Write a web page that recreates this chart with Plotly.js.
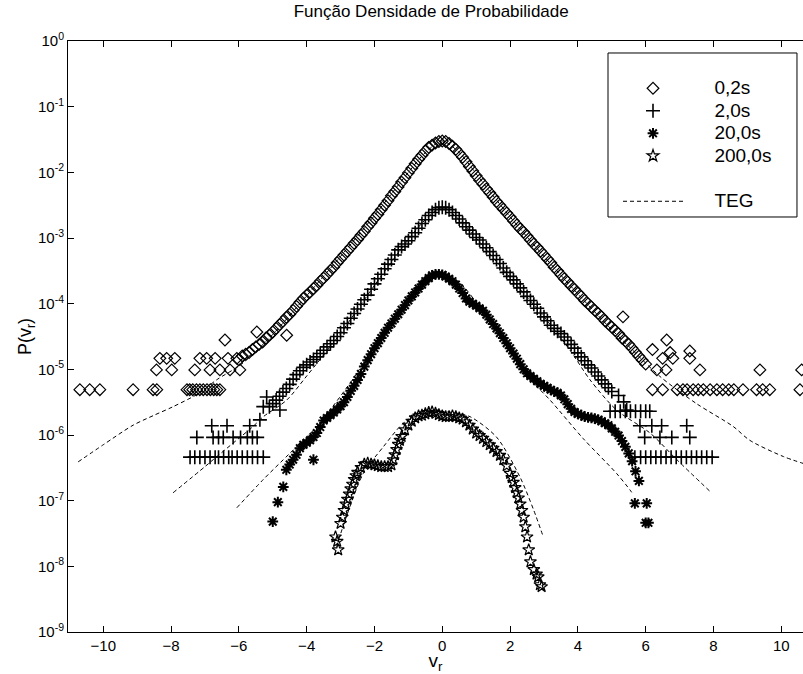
<!DOCTYPE html>
<html><head><meta charset="utf-8">
<script src="https://cdn.plot.ly/plotly-3.0.1.min.js"></script>
<style>body{margin:0;background:#fff}</style>
</head><body>
<div id="chart" style="width:803px;height:674px"></div>
<script>
// ---- series 0.2s (diamonds) ----
const x02 = [-6.0,-5.9,-5.8,-5.7,-5.6,-5.5,-5.4,-5.3,-5.2,-5.1,-5.0,-4.9,-4.8,-4.7,-4.6,-4.5,-4.4,-4.3,-4.2,-4.1,-4.0,-3.9,-3.8,-3.7,-3.6,-3.5,-3.4,-3.3,-3.2,-3.1,-3.0,-2.9,-2.8,-2.7,-2.6,-2.5,-2.4,-2.3,-2.2,-2.1,-2.0,-1.9,-1.8,-1.7,-1.6,-1.5,-1.4,-1.3,-1.2,-1.1,-1.0,-0.9,-0.8,-0.7,-0.6,-0.5,-0.4,-0.3,-0.2,-0.1,0.0,0.1,0.2,0.3,0.4,0.5,0.6,0.7,0.8,0.9,1.0,1.1,1.2,1.3,1.4,1.5,1.6,1.7,1.8,1.9,2.0,2.1,2.2,2.3,2.4,2.5,2.6,2.7,2.8,2.9,3.0,3.1,3.2,3.3,3.4,3.5,3.6,3.7,3.8,3.9,4.0,4.1,4.2,4.3,4.4,4.5,4.6,4.7,4.8,4.9,5.0,5.1,5.2,5.3,5.4,5.5,5.6,5.7,5.8,5.9,6.0,
 -10.69,-10.4,-10.1,-9.12,-8.53,-8.42,-7.53,-7.45,-7.36,-7.25,-7.15,-7.05,-6.94,-6.84,-6.74,-6.65,-6.56,
 -8.43,-7.98,-7.3,-6.85,-6.56,-6.26,-5.97,
 -8.33,-8.13,-7.89,-7.15,-6.95,-6.7,-6.32,-6.06,
 -6.41,-5.47,-4.59,
 6.2,6.5,6.93,7.1,7.22,7.4,7.55,7.7,7.9,8.1,8.27,8.45,8.6,8.87,9.27,9.45,9.66,10.55,
 6.33,6.6,7.6,9.37,10.6,
 6.5,6.8,7.3,
 5.33,6.62,6.72,7.3,6.2];
const p02 = [1.4e-5,1.6e-5,1.7e-5,1.8e-5,2.0e-5,2.2e-5,2.4e-5,2.6e-5,3.0e-5,3.3e-5,
 3.7e-5,4.2e-5,4.8e-5,5.4e-5,6.2e-5,6.9e-5,7.9e-5,9.1e-5,1.05e-4,1.2e-4,
 1.35e-4,1.5e-4,1.7e-4,1.9e-4,2.2e-4,2.45e-4,2.8e-4,3.2e-4,3.6e-4,4.2e-4,
 4.8e-4,5.5e-4,6.3e-4,7.2e-4,8.3e-4,9.5e-4,1.1e-3,1.26e-3,1.48e-3,1.7e-3,
 2.0e-3,2.3e-3,2.7e-3,3.16e-3,3.7e-3,4.4e-3,5.1e-3,6.0e-3,7.1e-3,8.3e-3,
 9.8e-3,1.15e-2,1.35e-2,1.58e-2,1.82e-2,2.1e-2,2.4e-2,2.6e-2,2.8e-2,2.95e-2,
 3.0e-2,
 2.95e-2,2.75e-2,2.5e-2,2.24e-2,1.95e-2,1.7e-2,1.45e-2,1.23e-2,1.05e-2,8.9e-3,
 7.6e-3,6.6e-3,5.6e-3,4.9e-3,4.2e-3,3.6e-3,3.16e-3,2.75e-3,2.4e-3,2.1e-3,
 1.82e-3,1.58e-3,1.38e-3,1.23e-3,1.07e-3,9.3e-4,8.1e-4,7.2e-4,6.3e-4,5.5e-4,
 4.8e-4,4.2e-4,3.6e-4,3.16e-4,2.75e-4,2.4e-4,2.14e-4,1.86e-4,1.66e-4,1.45e-4,
 1.29e-4,1.12e-4,1.0e-4,8.9e-5,7.9e-5,7.1e-5,6.3e-5,5.5e-5,4.9e-5,4.4e-5,
 3.9e-5,3.5e-5,3.0e-5,2.7e-5,2.4e-5,2.1e-5,1.82e-5,1.58e-5,1.38e-5,1.2e-5,
 4.9e-6,4.9e-6,4.9e-6,4.9e-6,4.9e-6,4.9e-6,4.9e-6,4.9e-6,4.9e-6,4.9e-6,4.9e-6,4.9e-6,4.9e-6,4.9e-6,4.9e-6,4.9e-6,4.9e-6,
 9.8e-6,9.8e-6,9.8e-6,9.8e-6,9.8e-6,9.8e-6,9.8e-6,
 1.47e-5,1.47e-5,1.47e-5,1.47e-5,1.47e-5,1.47e-5,1.47e-5,1.47e-5,
 2.8e-5,3.7e-5,3.3e-5,
 4.9e-6,4.9e-6,4.9e-6,4.9e-6,4.9e-6,4.9e-6,4.9e-6,4.9e-6,4.9e-6,4.9e-6,4.9e-6,4.9e-6,4.9e-6,4.9e-6,4.9e-6,4.9e-6,4.9e-6,4.9e-6,
 9.8e-6,9.8e-6,9.8e-6,9.8e-6,9.8e-6,
 1.47e-5,1.47e-5,1.47e-5,
 6.3e-5,2.8e-5,1.8e-5,1.9e-5,2.0e-5];

// ---- series 2.0s (plus) ----
const x20 = [-5.1,-5.0,-4.9,-4.8,-4.7,-4.6,-4.5,-4.4,-4.3,-4.2,-4.1,-4.0,-3.9,-3.8,-3.7,-3.6,-3.5,-3.4,-3.3,-3.2,-3.1,-3.0,-2.9,-2.8,-2.7,-2.6,-2.5,-2.4,-2.3,-2.2,-2.1,-2.0,-1.9,-1.8,-1.7,-1.6,-1.5,-1.4,-1.3,-1.2,-1.1,-1.0,-0.9,-0.8,-0.7,-0.6,-0.5,-0.4,-0.3,-0.2,-0.1,0.0,0.1,0.2,0.3,0.4,0.5,0.6,0.7,0.8,0.9,1.0,1.1,1.2,1.3,1.4,1.5,1.6,1.7,1.8,1.9,2.0,2.1,2.2,2.3,2.4,2.5,2.6,2.7,2.8,2.9,3.0,3.1,3.2,3.3,3.4,3.5,3.6,3.7,3.8,3.9,4.0,4.1,4.2,4.3,4.4,4.5,4.6,4.7,4.8,4.9,5.0,
 -7.44,-7.3,-7.15,-7.0,-6.85,-6.7,-6.6,-6.45,-6.3,-6.2,-6.05,-5.9,-5.75,-5.6,-5.45,-5.28,
 -7.24,-6.76,-6.6,-6.46,-6.17,-5.95,-5.75,-5.6,-5.46,
 -6.8,-6.35,-5.68,
 -5.18,-4.79,-5.38,-5.28,
 4.95,5.1,5.25,5.4,5.55,5.7,5.85,6.0,6.12,
 5.83,6.18,6.47,7.21,
 5.97,6.42,6.77,7.3,
 5.68,5.85,6.0,6.15,6.3,6.45,6.6,6.75,6.9,7.05,7.2,7.35,7.5,7.65,7.8,7.96,
 5.2,5.35,5.44];
const p20 = [2.7e-6,3.0e-6,3.4e-6,3.9e-6,4.5e-6,5.1e-6,5.9e-6,7.1e-6,8.3e-6,9.5e-6,
 1.07e-5,1.17e-5,1.29e-5,1.41e-5,1.55e-5,1.74e-5,1.95e-5,2.2e-5,2.45e-5,2.75e-5,
 3.16e-5,3.6e-5,4.3e-5,5.0e-5,6.0e-5,7.1e-5,8.3e-5,9.8e-5,1.15e-4,1.35e-4,
 1.66e-4,2.0e-4,2.4e-4,2.8e-4,3.4e-4,4.0e-4,4.7e-4,5.5e-4,6.6e-4,7.4e-4,
 8.1e-4,9.1e-4,1.05e-3,1.2e-3,1.41e-3,1.66e-3,1.9e-3,2.2e-3,2.45e-3,2.7e-3,
 2.9e-3,2.95e-3,
 2.9e-3,2.7e-3,2.45e-3,2.2e-3,1.95e-3,1.7e-3,1.48e-3,1.32e-3,1.15e-3,1.02e-3,
 9.3e-4,8.1e-4,7.1e-4,6.2e-4,5.4e-4,4.7e-4,4.1e-4,3.5e-4,3.0e-4,2.6e-4,
 2.3e-4,2.0e-4,1.74e-4,1.51e-4,1.29e-4,1.12e-4,9.8e-5,8.5e-5,7.2e-5,6.3e-5,
 5.5e-5,4.7e-5,4.2e-5,3.8e-5,3.5e-5,3.1e-5,2.75e-5,2.4e-5,2.1e-5,1.78e-5,
 1.55e-5,1.35e-5,1.17e-5,1.05e-5,9.1e-6,7.9e-6,6.9e-6,6.0e-6,5.25e-6,4.6e-6,
 4.6e-7,4.6e-7,4.6e-7,4.6e-7,4.6e-7,4.6e-7,4.6e-7,4.6e-7,4.6e-7,4.6e-7,4.6e-7,4.6e-7,4.6e-7,4.6e-7,4.6e-7,4.6e-7,
 9.2e-7,9.2e-7,9.2e-7,9.2e-7,9.2e-7,9.2e-7,9.2e-7,9.2e-7,9.2e-7,
 1.38e-6,1.38e-6,1.38e-6,
 3.8e-6,2.4e-6,1.7e-6,2.7e-6,
 2.3e-6,2.3e-6,2.3e-6,2.3e-6,2.3e-6,2.3e-6,2.3e-6,2.3e-6,2.3e-6,
 1.38e-6,1.38e-6,1.38e-6,1.38e-6,
 9.2e-7,9.2e-7,9.2e-7,9.2e-7,
 4.6e-7,4.6e-7,4.6e-7,4.6e-7,4.6e-7,4.6e-7,4.6e-7,4.6e-7,4.6e-7,4.6e-7,4.6e-7,4.6e-7,4.6e-7,4.6e-7,4.6e-7,4.6e-7,
 4.0e-6,3.2e-6,2.4e-6];

// ---- series 20.0s (asterisks) ----
const x200 = [-4.6,-4.5,-4.4,-4.3,-4.2,-4.1,-4.0,-3.9,-3.8,-3.7,-3.6,-3.5,-3.4,-3.3,-3.2,-3.1,-3.0,-2.9,-2.8,-2.7,-2.6,-2.5,-2.4,-2.3,-2.2,-2.1,-2.0,-1.9,-1.8,-1.7,-1.6,-1.5,-1.4,-1.3,-1.2,-1.1,-1.0,-0.9,-0.8,-0.7,-0.6,-0.5,-0.4,-0.3,-0.2,-0.1,0.0,0.1,0.2,0.3,0.4,0.5,0.6,0.7,0.8,0.9,1.0,1.1,1.2,1.3,1.4,1.5,1.6,1.7,1.8,1.9,2.0,2.1,2.2,2.3,2.4,2.5,2.6,2.7,2.8,2.9,3.0,3.1,3.2,3.3,3.4,3.5,3.6,3.7,3.8,3.9,4.0,4.1,4.2,4.3,4.4,4.5,4.6,4.7,4.8,4.9,5.0,5.1,5.2,5.3,5.4,5.5,5.6,5.7,5.8,
 -4.85,-5.0,-3.8,-4.69,5.68,6.03,6.0,6.08];
const p200 = [2.95e-7,3.55e-7,4.2e-7,5.0e-7,6.3e-7,7.1e-7,7.6e-7,8.3e-7,9.3e-7,1.07e-6,
 1.32e-6,1.66e-6,1.82e-6,2.0e-6,2.2e-6,2.45e-6,2.75e-6,3.16e-6,3.8e-6,4.7e-6,
 5.6e-6,6.9e-6,8.5e-6,1.1e-5,1.38e-5,1.7e-5,2.1e-5,2.5e-5,3.0e-5,3.6e-5,
 4.3e-5,5.0e-5,5.9e-5,6.9e-5,8.1e-5,9.5e-5,1.12e-4,1.29e-4,1.48e-4,1.7e-4,
 1.95e-4,2.2e-4,2.45e-4,2.7e-4,2.8e-4,2.8e-4,2.75e-4,
 2.6e-4,2.4e-4,2.2e-4,1.95e-4,1.7e-4,1.45e-4,1.2e-4,1.07e-4,1.0e-4,9.3e-5,
 8.5e-5,7.8e-5,6.8e-5,5.75e-5,4.9e-5,4.2e-5,3.55e-5,3.0e-5,2.5e-5,2.1e-5,
 1.74e-5,1.45e-5,1.2e-5,1.0e-5,8.7e-6,7.9e-6,7.2e-6,6.6e-6,6.0e-6,5.6e-6,
 5.25e-6,4.9e-6,4.6e-6,4.4e-6,4.0e-6,3.5e-6,2.95e-6,2.5e-6,2.24e-6,2.1e-6,
 2.0e-6,1.9e-6,1.86e-6,1.82e-6,1.78e-6,1.7e-6,1.62e-6,1.51e-6,1.41e-6,1.26e-6,
 1.12e-6,9.8e-7,8.1e-7,6.6e-7,5.25e-7,4.0e-7,2.8e-7,2.0e-7,
 9.5e-8,4.8e-8,4.2e-7,1.62e-7,9.1e-8,9.1e-8,4.6e-8,4.6e-8];

// ---- series 200,0s (pentagrams) ----
const x2000 = [-3.15,-3.1,-3.07,-3.0,-2.95,-2.9,-2.85,-2.8,-2.75,-2.7,-2.65,-2.6,-2.55,-2.5,-2.4,-2.3,-2.2,-2.1,-2.0,-1.9,-1.8,-1.7,-1.6,-1.5,-1.45,-1.4,-1.35,-1.3,-1.25,-1.2,-1.1,-1.0,-0.9,-0.8,-0.7,-0.6,-0.5,-0.4,-0.3,-0.2,-0.1,0.0,0.1,0.2,0.3,0.4,0.5,0.6,0.7,0.8,0.9,1.0,1.1,1.2,1.3,1.4,1.5,1.6,1.7,1.8,1.9,2.0,2.05,2.1,2.15,2.2,2.25,2.3,2.35,2.4,2.45,2.5,2.55,2.6,2.7,2.78,2.83,2.88,2.93];
const p2000 = [2.8e-8,2.4e-8,1.78e-8,4.5e-8,5.6e-8,7.1e-8,8.9e-8,1.05e-7,1.26e-7,1.51e-7,1.78e-7,2.1e-7,2.4e-7,2.7e-7,
 3.2e-7,3.6e-7,3.7e-7,3.6e-7,3.5e-7,3.4e-7,3.3e-7,3.3e-7,3.3e-7,3.5e-7,
 4.2e-7,5.0e-7,6.0e-7,7.2e-7,8.3e-7,9.5e-7,
 1.2e-6,1.41e-6,1.62e-6,1.82e-6,1.95e-6,2.0e-6,2.1e-6,2.2e-6,2.24e-6,2.14e-6,
 2.04e-6,1.95e-6,1.9e-6,1.9e-6,1.95e-6,1.9e-6,1.82e-6,1.74e-6,1.58e-6,1.41e-6,
 1.23e-6,1.07e-6,9.8e-7,8.9e-7,7.9e-7,7.1e-7,6.3e-7,5.6e-7,4.9e-7,4.2e-7,
 3.4e-7,2.6e-7,
 2.24e-7,1.9e-7,1.58e-7,1.32e-7,1.1e-7,8.9e-8,7.1e-8,5.6e-8,4.0e-8,2.8e-8,1.78e-8,1.17e-8,
 8.9e-9,7.6e-9,6.9e-9,5.25e-9,4.9e-9];

// ---- TEG model curves ----
const tegX1 = [-10.74,-10,-9.12,-8.5,-7.94,-7.15,-6.66,-6,-5.67,-5,-4,-3,-2,-1.5,-1,-0.5,0,0.5,1,1.5,2,3,4,5,5.5,6.42,7.5,8.58,9.07,10.06,10.64];
const tegP1 = [3.9e-7,7.1e-7,1.41e-6,2.0e-6,2.7e-6,4.4e-6,6.9e-6,1.12e-5,1.55e-5,3.4e-5,1.32e-4,5.25e-4,2.2e-3,4.7e-3,1.0e-2,2.0e-2,3.0e-2,2.0e-2,9.5e-3,4.4e-3,2.1e-3,5.25e-4,1.41e-4,4.0e-5,2.24e-5,7.8e-6,3.0e-6,1.35e-6,8.3e-7,4.7e-7,3.7e-7];
const tegX2 = [-7.94,-7,-6.76,-6,-5.58,-5.28,-4.59,-4,-3,-2,-1,-0.5,0,0.5,1,2,3,3.77,4.36,5.14,6.13,6.92,7.9];
const tegP2 = [1.32e-7,3.3e-7,4.2e-7,8.9e-7,1.35e-6,1.9e-6,3.4e-6,7.9e-6,3.55e-5,1.9e-4,9.5e-4,1.9e-3,2.95e-3,1.9e-3,1.0e-3,2.5e-4,6.3e-5,1.95e-5,6.9e-6,2.4e-6,1.07e-6,4.2e-7,1.38e-7];
const tegX3 = [-6.06,-5.28,-4.5,-3.7,-2.52,-1.74,-1,-0.5,-0.1,0.5,1,2,2.5,3.18,4.15,5.14,5.54,5.62];
const tegP3 = [7.8e-8,2.1e-7,5.25e-7,1.35e-6,8.7e-6,4.0e-5,1.17e-4,2.2e-4,2.8e-4,2.1e-4,1.05e-4,1.9e-5,7.9e-6,3.4e-6,8.9e-7,2.6e-7,1.45e-7,1.26e-7];
const tegX4 = [-3.12,-2.8,-2.33,-1.74,-1.15,-0.7,-0.3,0.3,0.82,1.6,2.29,2.7,2.98];
const tegP4 = [2.0e-8,6.3e-8,2.6e-7,6.6e-7,1.51e-6,2.0e-6,2.3e-6,2.2e-6,1.9e-6,9.3e-7,2.3e-7,7.1e-8,2.8e-8];

const seriesNames = ['0,2s','2,0s','20,0s','200,0s'];
const tegName = 'TEG';
const xTicks = [-10,-8,-6,-4,-2,0,2,4,6,8,10];
const yTicks = [1e-9,1e-8,1e-7,1e-6,1e-5,1e-4,1e-3,1e-2,1e-1,1];
const yTickText = ['10<sup>-9</sup>','10<sup>-8</sup>','10<sup>-7</sup>','10<sup>-6</sup>','10<sup>-5</sup>','10<sup>-4</sup>','10<sup>-3</sup>','10<sup>-2</sup>','10<sup>-1</sup>','10<sup>0</sup>'];

const FONT = 'Liberation Sans, Arial, Helvetica, sans-serif';
const pad = '\u00a0\u00a0\u00a0\u00a0\u00a0';
const lgName = s => '<span style="font-size:19px">' + pad + s + '</span>';

const mk = (x, y, name, symbol, size, lw) => ({
  type: 'scatter', mode: 'markers', x: x, y: y, name: lgName(name),
  legendgroup: 'data', cliponaxis: true,
  marker: {symbol: symbol, size: size, color: 'black', line: {color: 'black', width: lw}}
});
const tegLine = (x, y, show) => ({
  type: 'scatter', mode: 'lines', x: x, y: y, name: lgName(tegName),
  legendgroup: 'teg', showlegend: show,
  line: {color: 'black', width: 1, dash: '4px,3px', shape: 'spline', smoothing: 0.8}
});

const data = [
  mk(x02, p02, seriesNames[0], 'diamond-open', 9, 1.2),
  mk(x20, p20, seriesNames[1], 'cross-thin-open', 10, 1.6),
  mk(x200, p200, seriesNames[2], 'asterisk-open', 9, 2),
  mk(x2000, p2000, seriesNames[3], 'star-open', 9, 1.2),
  tegLine(tegX1, tegP1, true),
  tegLine(tegX2, tegP2, false),
  tegLine(tegX3, tegP3, false),
  tegLine(tegX4, tegP4, false)
];

const layout = {
  width: 803, height: 674,
  margin: {l: 68, r: 0, t: 41, b: 42, pad: 0},
  paper_bgcolor: 'white', plot_bgcolor: 'white',
  font: {family: FONT, color: 'black'},
  showlegend: true,
  title: {text: 'Função Densidade de Probabilidade', font: {size: 17, family: FONT, color: 'black'},
          x: 0.537, xref: 'container', xanchor: 'center', y: 0.984, yref: 'container', yanchor: 'middle'},
  xaxis: {range: [-11.04, 10.64], tickmode: 'array', tickvals: xTicks,
          ticks: 'inside', ticklen: 6, tickcolor: 'black', tickwidth: 1,
          showline: true, linecolor: 'black', linewidth: 1, mirror: 'ticks',
          showgrid: false, zeroline: false,
          tickfont: {size: 15, family: FONT, color: 'black'},
          title: {text: 'v<sub>r</sub>', font: {size: 19, family: FONT, color: 'black'}, standoff: 18}},
  yaxis: {type: 'log', range: [-9, 0], tickmode: 'array', tickvals: yTicks, ticktext: yTickText,
          ticks: 'inside', ticklen: 6, tickcolor: 'black', tickwidth: 1,
          showline: true, linecolor: 'black', linewidth: 1, mirror: false,
          showgrid: false, zeroline: false,
          tickfont: {size: 15, family: FONT, color: 'black'},
          title: {text: 'P(v<sub>r</sub>)', font: {size: 18, family: FONT, color: 'black'}, standoff: 1}},
  legend: {x: 0.7483, xanchor: 'left', y: 0.9475, yanchor: 'top',
           bgcolor: 'rgba(0,0,0,0)', borderwidth: 0,
           font: {size: 15, family: FONT, color: 'black'},
           itemwidth: 60, tracegroupgap: 23, traceorder: 'grouped'},
  shapes: [{type: 'rect', xref: 'paper', yref: 'paper', x0: 0.7347, x1: 0.9918, y0: 0.7022, y1: 0.9797,
            line: {color: 'black', width: 1}, fillcolor: 'white', layer: 'above'}]
};

Plotly.newPlot('chart', data, layout, {displayModeBar: false, staticPlot: true});
</script>
</body></html>
